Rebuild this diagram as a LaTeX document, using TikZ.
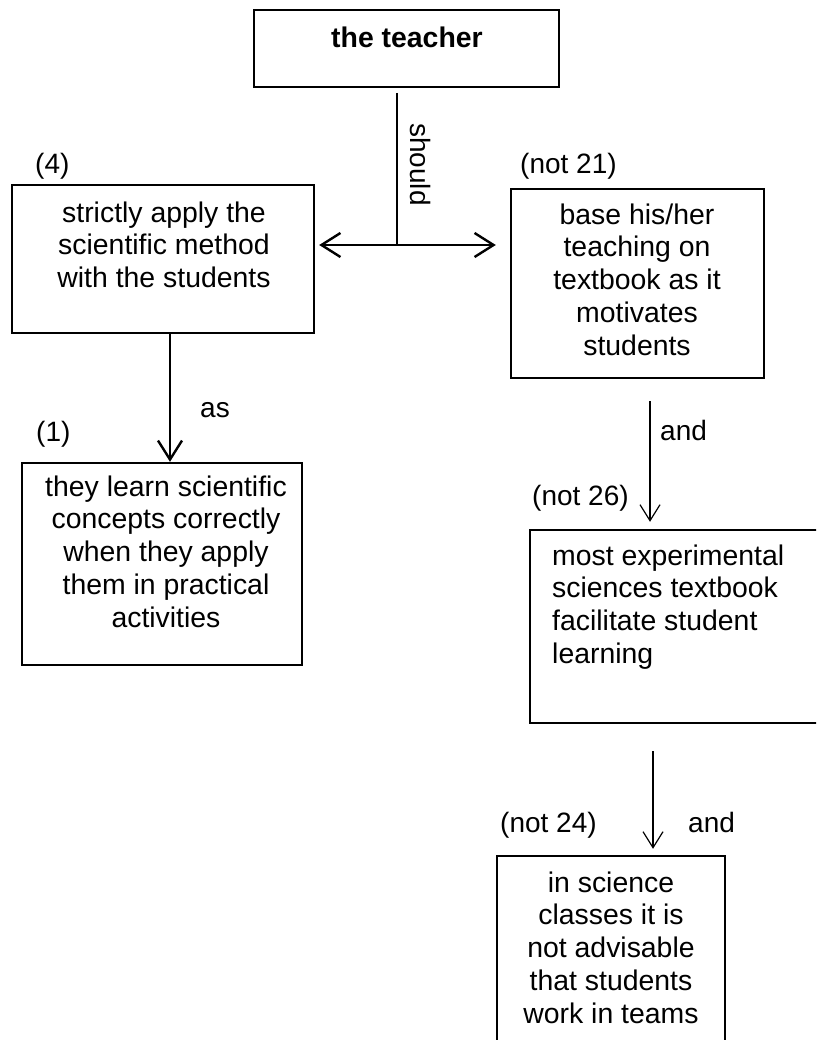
\documentclass[tikz,border=0pt]{standalone}
\usepackage{fontspec}
\setmainfont{Liberation Sans}
\usetikzlibrary{arrows.meta}
\begin{document}
\begin{tikzpicture}[x=1pt,y=-1pt,
  box/.style={draw,line width=2.4pt,inner sep=0pt,rectangle},
  txt/.style={inner sep=0pt,anchor=north,align=center,font=\fontsize{28.4}{32.7}\selectfont},
  lbl/.style={inner sep=0pt,anchor=base west,font=\fontsize{28}{33}\selectfont},
  thick arr/.style={line width=2.4pt,-{Straight Barb[length=19pt,width=24pt]}},
  thin arr/.style={line width=1.2pt,-{Straight Barb[length=16pt,width=20pt]}}]
\useasboundingbox (0,0) rectangle (816,1040);
\clip (0,0) rectangle (816,1040);
\fill[white] (0,0) rectangle (816,1040);

% boxes
\node[box,minimum width=305pt,minimum height=77pt,line width=2pt] (teacher) at (406.5,48.5) {};
\node[box,minimum width=302pt,minimum height=148pt] (m4) at (163,259) {};
\node[box,minimum width=280pt,minimum height=202pt] (m1) at (162,564) {};
\node[box,minimum width=253pt,minimum height=189pt] (n21) at (637.5,283.5) {};
\node[box,minimum width=310pt,minimum height=193pt] (n26) at (685,626.5) {};
\node[box,minimum width=228pt,minimum height=204pt] (n24) at (611,958) {};

% box texts
\node[txt,font=\fontsize{28.4}{33}\bfseries] (tT) at (407,26.5) {the teacher};
\node[txt] (t4) at (164,201.5) {strictly apply the\\scientific method\\with the students};
\node[txt] (t1) at (166,475.5) {they learn scientific\\concepts correctly\\when they apply\\them in practical\\activities};
\node[txt] (t21) at (637,203.5) {base his/her\\teaching on\\textbook as it\\motivates\\students};
\node[txt,anchor=north west,align=left] (t26) at (552,544.5) {most experimental\\sciences textbook\\facilitate student\\learning};
\node[txt] (t24) at (611,871.5) {in science\\classes it is\\not advisable\\that students\\work in teams};

% numbered labels
\node[lbl] (l4) at (35,174) {(4)};
\node[lbl] (l1) at (36,441) {(1)};
\node[lbl] (l21) at (520,174) {(not 21)};
\node[lbl] (l26) at (532,505) {(not 26)};
\node[lbl] (l24) at (500,832) {(not 24)};

% connectors
\coordinate (j) at (397,245);
\coordinate (asx) at (170,400);
\coordinate (and1x) at (650,450);
\coordinate (and2x) at (653,790);

\draw[line width=2pt,shorten <=5pt] (teacher.south -| j) -- (j);
\draw[thick arr,shorten >=4pt] (j) -- (j -| m4.east);
\draw[thick arr,shorten >=14pt] (j) -- (j -| n21.west);
\draw[thick arr] (m4.south -| asx) -- (m1.north -| asx);
\draw[thin arr,shorten <=22pt,shorten >=7pt] (n21.south -| and1x) -- (n26.north -| and1x);
\draw[thin arr,shorten <=27pt,shorten >=6pt] (n26.south -| and2x) -- (n24.north -| and2x);

% connector labels
\node[lbl,rotate=-90] (should) at (410,123) {should};
\node[lbl] (as) at (200,417) {as};
\node[lbl] (and1) at (660,440) {and};
\node[lbl] (and2) at (688,832) {and};
\end{tikzpicture}
\end{document}
